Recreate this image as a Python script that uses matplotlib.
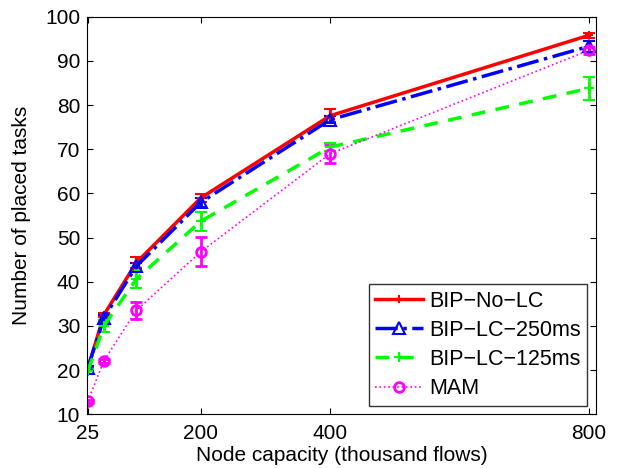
import numpy as np
from matplotlib import pyplot as plt

plt.rcParams['font.family'] = ['Liberation Sans', 'DejaVu Sans']

capacity = [25, 50, 100, 200, 400, 800]
xticks = [25, 200, 400, 800]

nolc = [20.3, 32.5, 44.3, 59.0, 77.6, 95.8]
nolc_err = [0.5, 0.5, 1.2, 0.9, 1.5, 0.6]
lc250 = [20.5, 31.8, 43.5, 58.0, 76.7, 93.3]
lc250_err = [0.5, 0.6, 0.8, 1.0, 0.8, 1.2]
lc125 = [19.7, 30.0, 40.6, 53.7, 70.5, 83.8]
lc125_err = [0.6, 1.4, 2.0, 2.1, 1.0, 2.6]
mam = [12.9, 22.1, 33.5, 46.8, 69.0, 92.4]
mam_err = [0.4, 0.5, 2.0, 3.3, 2.0, 0.8]
labels = ['BIP\u2212No\u2212LC', 'BIP\u2212LC\u2212250ms', 'BIP\u2212LC\u2212125ms', 'MAM']

fig = plt.figure(figsize=(6.18, 4.68), dpi=100)
ax = fig.add_axes([0.141, 0.115, 0.823, 0.849])

e1 = ax.errorbar(capacity, nolc, yerr=nolc_err, color='red', lw=2.5, marker='+',
                 ms=6, mew=1.5, capsize=4, elinewidth=2, capthick=2)
e2 = ax.errorbar(capacity, lc250, yerr=lc250_err, color='blue', lw=2.5, ls='-.', marker='^',
                 ms=8, mfc='none', mew=1.5, capsize=4, elinewidth=2, capthick=2)
e3 = ax.errorbar(capacity, lc125, yerr=lc125_err, color='#00ff00', lw=2.5, ls=(0, (4, 3)),
                 marker='+', ms=7, mew=1.5, capsize=4, elinewidth=2, capthick=2)
e4 = ax.errorbar(capacity, mam, yerr=mam_err, color='magenta', lw=1.2, ls=':', marker='o',
                 ms=7, mfc='none', mew=2, capsize=4, elinewidth=2, capthick=2)

ax.set_xlim(24, 811)
ax.set_ylim(10, 100)
ax.set_xticks(xticks)
ax.set_yticks(np.arange(10, 101, 10))
ax.tick_params(direction='in', top=True, right=True, labelsize=15, length=4)
ax.tick_params(axis='x', pad=7)
ax.tick_params(axis='y', pad=5)
ax.set_xlabel('Node capacity (thousand flows)', fontsize=15, labelpad=2)
ax.set_ylabel('Number of placed tasks', fontsize=15, labelpad=10)

handles = [e[0] for e in (e1, e2, e3, e4)]
leg = ax.legend(handles, labels, loc='lower right', fontsize=15.5, fancybox=False,
                edgecolor='black', handlelength=2.2, handletextpad=0.3,
                borderaxespad=0.4, labelspacing=0.38, borderpad=0.3)
leg.get_frame().set_linewidth(1)

fig.savefig('out.png')
